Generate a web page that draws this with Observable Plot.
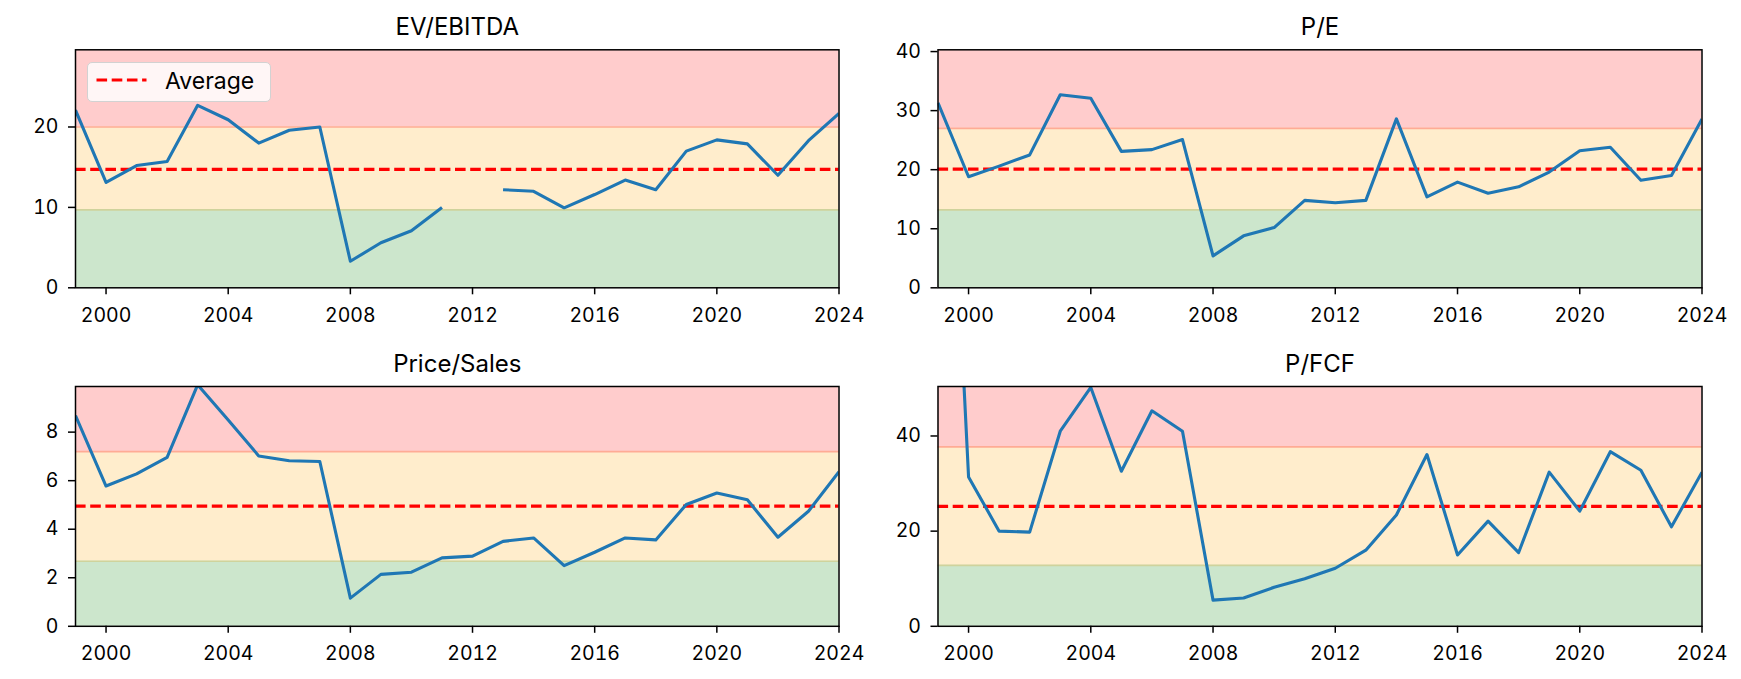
<!DOCTYPE html>
<html>
<head>
<meta charset="utf-8">
<script src="https://cdn.jsdelivr.net/npm/d3@7"></script>
<script src="https://cdn.jsdelivr.net/npm/@observablehq/plot@0.6"></script>
<style>
  html, body { margin: 0; padding: 0; background: #ffffff; }
  #chart { position: relative; width: 1741px; height: 679px; background: #ffffff; font-family: Inter, "DejaVu Sans", sans-serif; }
  #chart svg { position: absolute; overflow: visible; }
  .legend { position: absolute; box-sizing: border-box; border: 1.3px solid #d2d2d2; border-radius: 5px; background: rgba(255,255,255,0.82); }
  .legend svg { position: absolute !important; }
  .legend span { position: absolute; font-family: Inter, sans-serif; font-size: 23px; color: #000; white-space: nowrap; }
</style>
</head>
<body>
<div id="chart"></div>
<script>
// ---------- data ----------
const years = [1999, 2000, 2001, 2002, 2003, 2004, 2005, 2006, 2007, 2008, 2009, 2010, 2011, 2012,
               2013, 2014, 2015, 2016, 2017, 2018, 2019, 2020, 2021, 2022, 2023, 2024];

const evEbitda = [22.1, 13.1, 15.2, 15.7, 22.7, 20.9, 18.0, 19.6, 20.0, 3.3, 5.6, 7.1, 10.0, null,
                  12.2, 12.0, 9.95, 11.6, 13.4, 12.2, 17.0, 18.4, 17.9, 14.0, 18.3, 21.7];
const peRatio  = [31.3, 18.8, 20.6, 22.5, 32.7, 32.1, 23.1, 23.4, 25.1, 5.4, 8.8, 10.2, 14.8, 14.4,
                  14.8, 28.6, 15.4, 17.9, 16.0, 17.1, 19.6, 23.2, 23.8, 18.2, 19.0, 28.6];
const priceSales = [8.68, 5.78, 6.28, 6.96, 9.95, 8.5, 7.02, 6.82, 6.79, 1.16, 2.14, 2.23, 2.82, 2.89,
                    3.5, 3.64, 2.5, 3.05, 3.64, 3.56, 5.02, 5.49, 5.21, 3.67, 4.74, 6.37];
const pFcf = [160, 31.4, 20.0, 19.8, 41.0, 50.2, 32.6, 45.3, 41.0, 5.5, 5.95, 8.2, 10.0, 12.2,
              16.0, 23.4, 36.1, 15.0, 22.1, 15.5, 32.4, 24.2, 36.7, 32.8, 20.9, 32.4];

const titles    = ["EV/EBITDA", "P/E", "Price/Sales", "P/FCF"];
const averages  = [14.73, 20.1, 4.95, 25.2];
const lowBands  = [9.7, 13.2, 2.68, 12.8];
const highBands = [20.0, 27.0, 7.2, 37.7];
const yMaxima   = [29.6, 40.3, 9.88, 50.4];
const yTicks    = [[0, 10, 20], [0, 10, 20, 30, 40], [0, 2, 4, 6, 8], [0, 20, 40]];
const xTicks    = [2000, 2004, 2008, 2012, 2016, 2020, 2024];
const xDomain   = [1999, 2024];
const legendLabel = "Average";

const series = [evEbitda, peRatio, priceSales, pFcf];

// ---------- layout ----------
const geom = [
  {left: 0,   top: 0,   width: 870, height: 337, mL: 75,   mR: 31.5, mT: 49.3, mB: 49.7},
  {left: 870, top: 0,   width: 871, height: 337, mL: 67.5, mR: 39.5, mT: 49.3, mB: 49.7},
  {left: 0,   top: 337, width: 870, height: 342, mL: 75,   mR: 31.5, mT: 49,   mB: 53.2},
  {left: 870, top: 337, width: 871, height: 342, mL: 67.5, mR: 39.5, mT: 49,   mB: 53.2}
];

const chart = document.getElementById("chart");

series.forEach((vals, i) => {
  const g = geom[i];
  const data = years.map((yr, k) => ({year: yr, value: vals[k]}));
  const bands = [
    {y1: 0, y2: lowBands[i], fill: "#008000"},
    {y1: lowBands[i], y2: highBands[i], fill: "#ffa500"},
    {y1: highBands[i], y2: yMaxima[i], fill: "#ff0000"}
  ];
  const svg = Plot.plot({
    width: g.width,
    height: g.height,
    marginLeft: g.mL,
    marginRight: g.mR,
    marginTop: g.mT,
    marginBottom: g.mB,
    style: {fontFamily: "Inter, 'DejaVu Sans', sans-serif", fontSize: "19.5px", color: "#000", background: "transparent", overflow: "visible"},
    x: {domain: xDomain},
    y: {domain: [0, yMaxima[i]]},
    marks: [
      Plot.rectY(bands, {y1: "y1", y2: "y2", fill: "fill", fillOpacity: 0.2}),
      Plot.ruleY([lowBands[i]], {stroke: "#cfd39c", strokeWidth: 1.7}),
      Plot.ruleY([highBands[i]], {stroke: "#ffab95", strokeWidth: 1.7}),
      Plot.ruleY([averages[i]], {stroke: "#ff0000", strokeWidth: 3.1, strokeDasharray: "10.6,4.6"}),
      Plot.line(data, {x: "year", y: "value", stroke: "#1f77b4", strokeWidth: 3.1, clip: true, strokeLinejoin: "round", strokeLinecap: "butt"}),
      Plot.frame({stroke: "#000", strokeWidth: 1.5}),
      Plot.axisX(xTicks, {tickSize: 7, tickPadding: 13, strokeWidth: 1.5, tickFormat: d => String(d), label: null, fontSize: 19.5}),
      Plot.axisY(yTicks[i], {tickSize: 7, tickPadding: 10, strokeWidth: 1.5, tickFormat: d => String(d), label: null, fontSize: 19.5}),
      Plot.text([titles[i]], {frameAnchor: "top", dy: -15, lineAnchor: "bottom", fontSize: 24, fill: "#000", text: d => d})
    ]
  });
  svg.style.left = g.left + "px";
  svg.style.top = g.top + "px";
  chart.appendChild(svg);
});

// legend (top-left panel)
const legend = document.createElement("div");
legend.className = "legend";
legend.style.left = "87px";
legend.style.top = "62px";
legend.style.width = "184px";
legend.style.height = "40px";
const ns = "http://www.w3.org/2000/svg";
const lsvg = document.createElementNS(ns, "svg");
lsvg.setAttribute("width", "60");
lsvg.setAttribute("height", "20");
lsvg.style.left = "8px";
lsvg.style.top = "7px";
const ll = document.createElementNS(ns, "line");
ll.setAttribute("x1", "0.5"); ll.setAttribute("x2", "50.5");
ll.setAttribute("y1", "10"); ll.setAttribute("y2", "10");
ll.setAttribute("stroke", "#ff0000");
ll.setAttribute("stroke-width", "3.1");
ll.setAttribute("stroke-dasharray", "10.6,4.6");
lsvg.appendChild(ll);
legend.appendChild(lsvg);
const lt = document.createElement("span");
lt.textContent = legendLabel;
lt.style.left = "77px";
lt.style.top = "3px";
lt.style.lineHeight = "30px";
legend.appendChild(lt);
chart.appendChild(legend);
</script>
</body>
</html>
